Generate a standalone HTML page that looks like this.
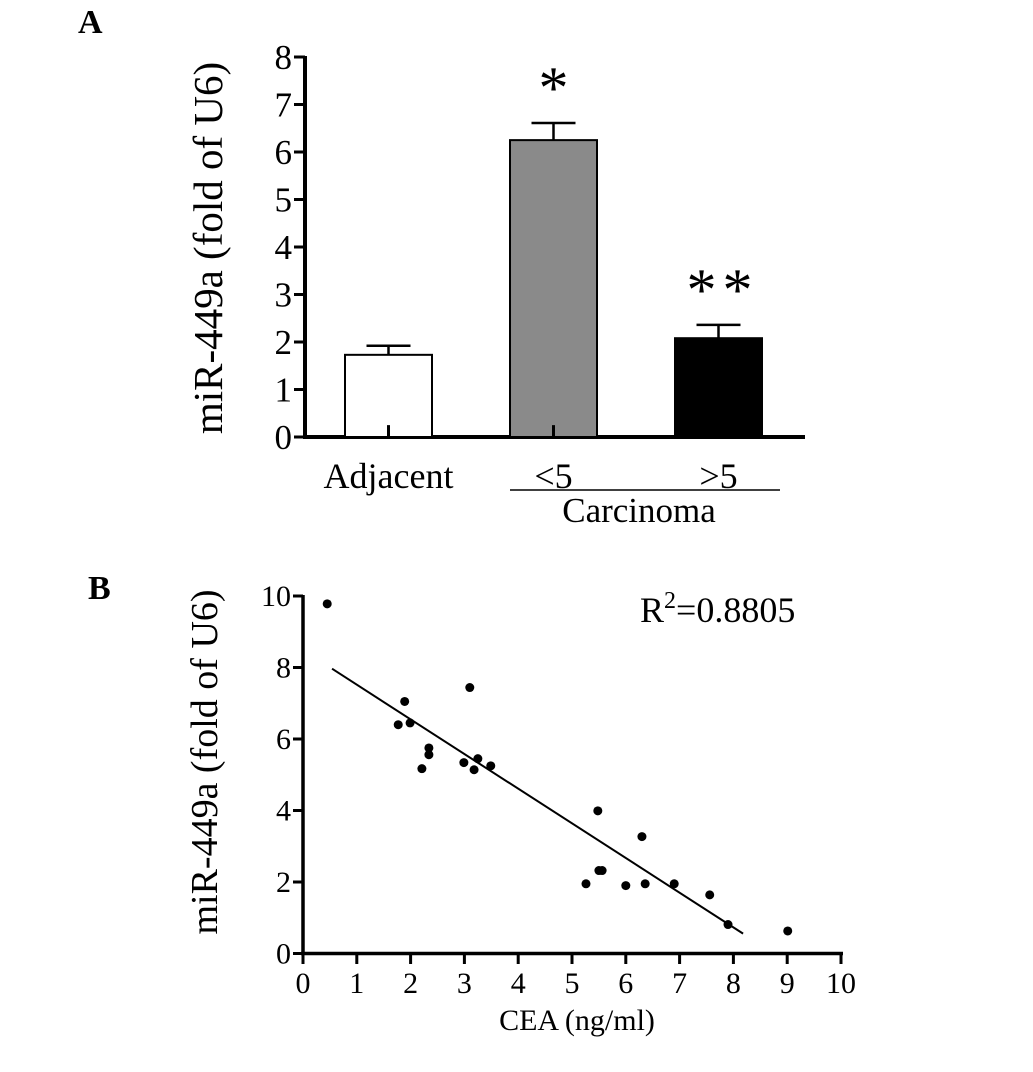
<!DOCTYPE html>
<html><head><meta charset="utf-8"><style>
html,body{margin:0;padding:0;background:#fff;}
svg{display:block;font-family:"Liberation Serif",serif;}
</style></head><body>
<svg id="fig" width="1033" height="1072" viewBox="0 0 1033 1072" xmlns="http://www.w3.org/2000/svg">
<text x="78" y="33" font-size="34" font-weight="bold">A</text>
<text x="88" y="599" font-size="34" font-weight="bold">B</text>
<g id="pa"></g>
<g id="pb"></g>
</svg>
<script>
const barCats = ["Adjacent", "<5", ">5"];
const barValues = [1.73, 6.25, 2.08];
const barErrors = [0.19, 0.36, 0.28];
const barFills = ["#ffffff", "#8a8a8a", "#000000"];
const barStars = ["", "*", "**"];
const barTicks = [0,1,2,3,4,5,6,7,8];

const cea = [0.45,1.89,1.77,1.99,2.34,2.34,2.21,3.10,2.99,3.25,3.18,3.49,5.48,6.30,5.50,5.56,5.26,6.00,6.36,6.90,7.56,7.90,9.01];
const mir = [9.78,7.05,6.40,6.45,5.75,5.56,5.17,7.44,5.34,5.45,5.14,5.25,3.99,3.27,2.32,2.32,1.95,1.90,1.95,1.95,1.64,0.81,0.63];
const fitSlope = [-0.97];
const fitIntercept = [8.49];
const fitRange = [0.54, 8.18];
const xTicksB = [0,1,2,3,4,5,6,7,8,9,10];
const yTicksB = [0,2,4,6,8,10];

const NS="http://www.w3.org/2000/svg";
function mk(parent,tag,attrs,text){const e=document.createElementNS(NS,tag);for(const k in attrs)e.setAttribute(k,attrs[k]);if(text!==undefined)e.textContent=text;parent.appendChild(e);return e;}

// Panel A
const pa=document.getElementById('pa');
const yA=v=>437-v*47.5;
const barX=[345,510,675], barW=87;
mk(pa,'line',{x1:305,y1:yA(8)-1,x2:305,y2:439,stroke:'#000','stroke-width':4});
mk(pa,'line',{x1:303,y1:437,x2:805,y2:437,stroke:'#000','stroke-width':4});
barTicks.forEach(t=>{
  const l=mk(pa,'line',{x1:294,y1:yA(t),x2:305,y2:yA(t),stroke:'#000','stroke-width':3});
  
  
  const tx=mk(pa,'text',{x:292,y:yA(t)+12,'font-size':35,'text-anchor':'end'},String(t));
  
  
});
barValues.forEach((v,i)=>{
  const x=barX[i], cx=x+barW/2;
  const r=mk(pa,'rect',{x:x,y:yA(v),width:barW,height:437-yA(v),fill:barFills[i],stroke:'#000','stroke-width':2});
  
  
  const e=mk(pa,'path',{d:`M${cx},${yA(v)} V${yA(v+barErrors[i])} M${cx-22},${yA(v+barErrors[i])} H${cx+22}`,stroke:'#000','stroke-width':2.5,fill:'none'});
  
  
  const s=mk(pa,'line',{x1:cx,y1:437,x2:cx,y2:yA(0.25),stroke:'#000','stroke-width':3});
  
  
  if(barStars[i]){
    const multi=barStars[i].length>1;
    const st=mk(pa,'text',{x:cx+(multi?4:0),y:yA(v+barErrors[i])-15,'font-size':60,'text-anchor':'middle','letter-spacing':multi?6:0},barStars[i]);
    
    
  }
  const lb=mk(pa,'text',{x:cx,y:488,'font-size':36,'text-anchor':'middle'},barCats[i]);
  
  
});
mk(pa,'line',{x1:510,y1:490,x2:780,y2:490,stroke:'#000','stroke-width':1.5});
mk(pa,'text',{x:639,y:522,'font-size':35,'text-anchor':'middle'},'Carcinoma');
mk(pa,'text',{x:0,y:0,'font-size':41,'text-anchor':'middle',transform:'translate(222,248) rotate(-90)'},'miR-449a (fold of U6)');

// Panel B
const pb=document.getElementById('pb');
const xB=v=>303+v*53.8, yB=v=>953.5-v*35.75;
mk(pb,'line',{x1:303,y1:yB(10)-1,x2:303,y2:955,stroke:'#000','stroke-width':3.5});
mk(pb,'line',{x1:301,y1:953.5,x2:xB(10)+2,y2:953.5,stroke:'#000','stroke-width':3.5});
yTicksB.forEach(t=>{
  const l=mk(pb,'line',{x1:293,y1:yB(t),x2:303,y2:yB(t),stroke:'#000','stroke-width':3});
  
  
  const tx=mk(pb,'text',{x:291,y:yB(t)+10,'font-size':30,'text-anchor':'end'},String(t));
  
  
});
xTicksB.forEach(t=>{
  const l=mk(pb,'line',{x1:xB(t),y1:953.5,x2:xB(t),y2:964,stroke:'#000','stroke-width':3});
  
  
  const tx=mk(pb,'text',{x:xB(t),y:993,'font-size':30,'text-anchor':'middle'},String(t));
  
  
});
cea.forEach((c,i)=>{
  const d=mk(pb,'circle',{cx:xB(c),cy:yB(mir[i]),r:4.5,fill:'#000'});
  
  
});
const fl=mk(pb,'line',{x1:xB(fitRange[0]),y1:yB(fitIntercept[0]+fitSlope[0]*fitRange[0]),x2:xB(fitRange[1]),y2:yB(fitIntercept[0]+fitSlope[0]*fitRange[1]),stroke:'#000','stroke-width':2});


const r2=mk(pb,'text',{x:640,y:622,'font-size':36});


r2.innerHTML='R<tspan dy="-14" font-size="24">2</tspan><tspan dy="14">=0.8805</tspan>';
mk(pb,'text',{x:577,y:1030,'font-size':30,'text-anchor':'middle'},'CEA (ng/ml)');
mk(pb,'text',{x:0,y:0,'font-size':38,'text-anchor':'middle',transform:'translate(217,762) rotate(-90)'},'miR-449a (fold of U6)');
</script>
</body></html>
